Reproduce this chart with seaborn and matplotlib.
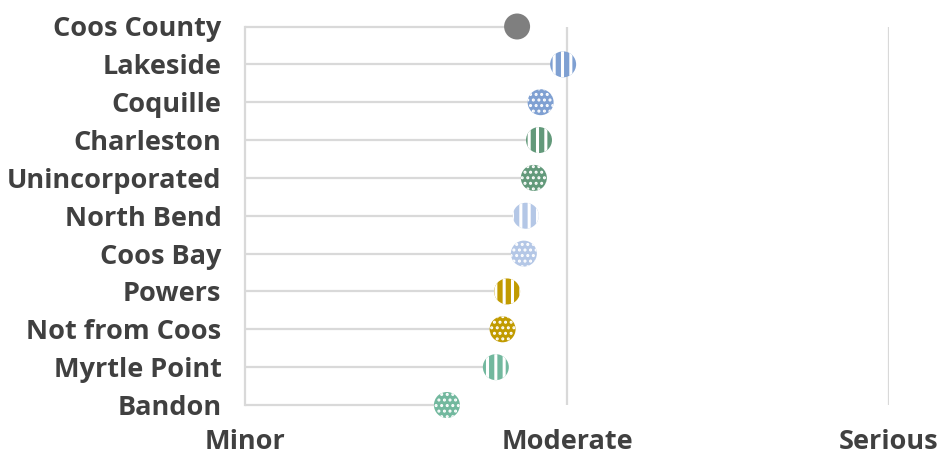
import matplotlib
matplotlib.use("Agg")
import matplotlib.pyplot as plt
import seaborn as sns
import pandas as pd

# Average severity rating by community (1 = Minor, 2 = Moderate, 3 = Serious)
communities = ["Coos County", "Lakeside", "Coquille", "Charleston", "Unincorporated",
               "North Bend", "Coos Bay", "Powers", "Not from Coos", "Myrtle Point", "Bandon"]
severity = [1.845, 1.988, 1.918, 1.913, 1.897, 1.872, 1.866, 1.814, 1.800, 1.779, 1.627]
dot_colors = ["#7f7f7f", "#7fa0d2", "#7fa0d2", "#62997a", "#62997a",
              "#b4c7e6", "#b4c7e6", "#c19b00", "#c19b00", "#72b89e", "#72b89e"]
dot_hatches = ["", "||", "...", "||", "...", "||", "...", "||", "...", "||", "..."]
scale_values = [1, 2, 3]
scale_labels = ["Minor", "Moderate", "Serious"]

df = pd.DataFrame({"community": communities, "severity": severity})
df["row"] = range(len(df))

sns.set_theme(style="white")
plt.rcParams["font.family"] = ["Open Sans", "DejaVu Sans"]
plt.rcParams["hatch.color"] = "white"

fig = plt.figure(figsize=(9.42, 4.59), dpi=100)
W, H = 942, 459
left, right = 245 / W, 889 / W
top, bottom = 1 - 26.5 / H, 1 - 405 / H
ax = fig.add_axes([left, bottom, right - left, top - bottom])

# Gray leader lines from the left edge to each value
for _, r in df.iterrows():
    ax.plot([scale_values[0], r["severity"]], [r["row"], r["row"]],
            color="#d9d9d9", lw=1.6, zorder=1, clip_on=False, solid_capstyle="butt")

# Patterned dots, one per community
for i, r in df.iterrows():
    hatch_lw = 2.2 if "|" in dot_hatches[i] else 1.4
    with plt.rc_context({"hatch.linewidth": hatch_lw}):
        sns.scatterplot(x=[r["severity"]], y=[r["row"]], ax=ax, s=350,
                        color=dot_colors[i], hatch=dot_hatches[i],
                        edgecolor="none", linewidth=0, zorder=3, clip_on=False,
                        legend=False)

ax.set_xlim(scale_values[0], scale_values[-1])
ax.set_ylim(len(df) - 1, 0)

for v in scale_values[1:]:
    ax.axvline(v, color="#d9d9d9", lw=1.6, zorder=0)

for s in ["top", "right", "bottom"]:
    ax.spines[s].set_visible(False)
ax.spines["left"].set_color("#d9d9d9")
ax.spines["left"].set_linewidth(1.6)

ax.set_yticks(df["row"])
ax.set_yticklabels(communities, fontsize=19.5, fontweight="bold", color="#404040")
ax.set_xticks(scale_values)
ax.set_xticklabels(scale_labels, fontsize=19.5, fontweight="bold", color="#404040")
ax.tick_params(axis="y", length=0, pad=17)
ax.tick_params(axis="x", length=0, pad=17)
ax.set_xlabel("")
ax.set_ylabel("")

fig.savefig("out.png", dpi=100)
